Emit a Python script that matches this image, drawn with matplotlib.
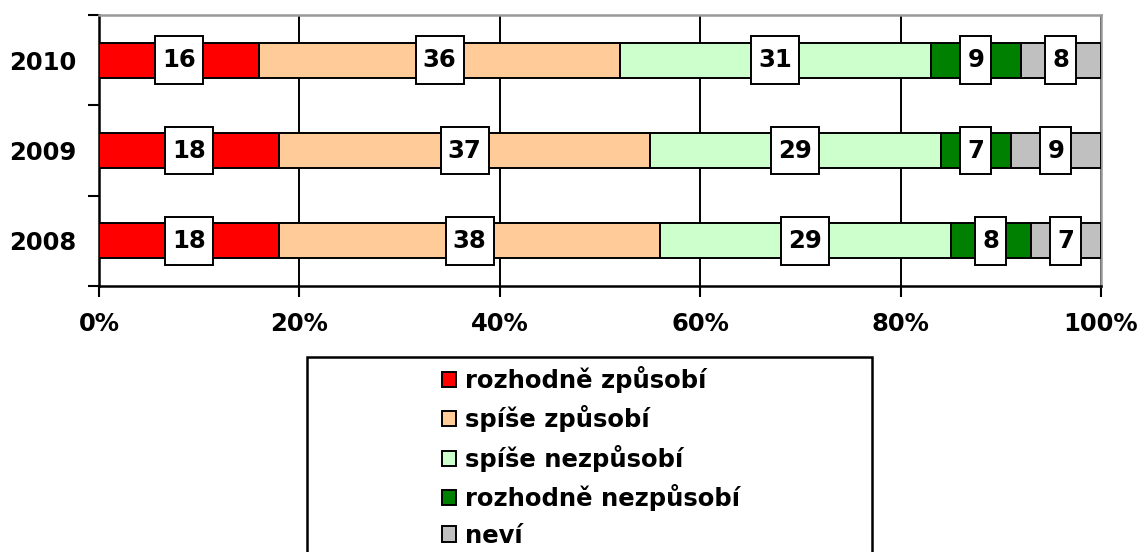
import numpy as np
import matplotlib.pyplot as plt
from matplotlib.patches import Rectangle
from matplotlib.path import Path

# data
years = ['2008', '2009', '2010']
rozhodne_zpusobi = [18, 18, 16]
spise_zpusobi = [38, 37, 36]
spise_nezpusobi = [29, 29, 31]
rozhodne_nezpusobi = [8, 7, 9]
nevi = [7, 9, 8]

series = [rozhodne_zpusobi, spise_zpusobi, spise_nezpusobi, rozhodne_nezpusobi, nevi]
names = ['rozhodně způsobí', 'spíše způsobí', 'spíše nezpůsobí', 'rozhodně nezpůsobí', 'neví']
colors = ['#FF0000', '#FFCC99', '#CCFFCC', '#008000', '#C0C0C0']

plt.rcParams['font.family'] = ['DejaVu Sans']
plt.rcParams['font.weight'] = 'bold'
fs = 17.5


def label_box(x0, y0, width, height, mutation_size):
    # taller than wide padding, like the excel data label boxes
    px = 0.29 * mutation_size
    py = 0.48 * mutation_size
    return Path([(x0 - px, y0 - py), (x0 + width + px, y0 - py),
                 (x0 + width + px, y0 + height + py), (x0 - px, y0 + height + py),
                 (x0 - px, y0 - py)], closed=True)


fig = plt.figure(figsize=(11.45, 5.52), dpi=100)
ax = fig.add_axes([99/1145, 1-286/552, 1002/1145, 271/552])

y = np.arange(len(years))
left = np.zeros(len(years))
handles = []
for vals, name, col in zip(series, names, colors):
    vals = np.array(vals, dtype=float)
    b = ax.barh(y, vals, left=left, height=0.39, color=col, edgecolor='black',
                linewidth=1.4, label=name, zorder=3)
    handles.append(b)
    for yi, l, v in zip(y, left, vals):
        ax.text(l + v/2, yi, '%d' % v, ha='center', va='center', fontsize=fs,
                fontweight='bold', zorder=5,
                bbox=dict(boxstyle=label_box, facecolor='white',
                          edgecolor='black', linewidth=1.4))
    left += vals

ax.set_xlim(0, 100)
ax.set_ylim(-0.5, 2.5)
ax.set_xticks([0, 20, 40, 60, 80, 100])
ax.set_xticklabels(['0%', '20%', '40%', '60%', '80%', '100%'], fontsize=fs, fontweight='bold')
ax.set_yticks([-0.5, 0.5, 1.5, 2.5])
ax.set_yticklabels([])
ax.set_yticks(y, minor=True)
ax.set_yticklabels(years, minor=True, fontsize=fs, fontweight='bold')
ax.tick_params(axis='y', which='minor', length=0, pad=16)
ax.tick_params(axis='y', which='major', length=8, width=1.5, direction='out')
ax.tick_params(axis='x', length=8, width=1.5, direction='out', pad=11)
ax.xaxis.grid(True, color='black', linewidth=1.4, zorder=0)
ax.set_axisbelow(True)
for s in ['left', 'bottom']:
    ax.spines[s].set_linewidth(1.8)
    ax.spines[s].set_color('black')
for s in ['top', 'right']:
    ax.spines[s].set_linewidth(1.8)
    ax.spines[s].set_color('#999999')

# legend frame and entries
fig.add_artist(Rectangle((307/1145, -0.05), (872-307)/1145, 1-357/552+0.05,
                         transform=fig.transFigure, facecolor='white',
                         edgecolor='black', linewidth=1.8))
leg = fig.legend(handles=handles, labels=names, loc='upper left',
                 bbox_to_anchor=(442/1145, 1-366/552), frameon=False,
                 prop={'weight': 'bold', 'size': fs},
                 handlelength=0.58, handleheight=0.58, handletextpad=0.35,
                 labelspacing=0.51, borderpad=0, borderaxespad=0)

fig.savefig('out.png', dpi=100)
